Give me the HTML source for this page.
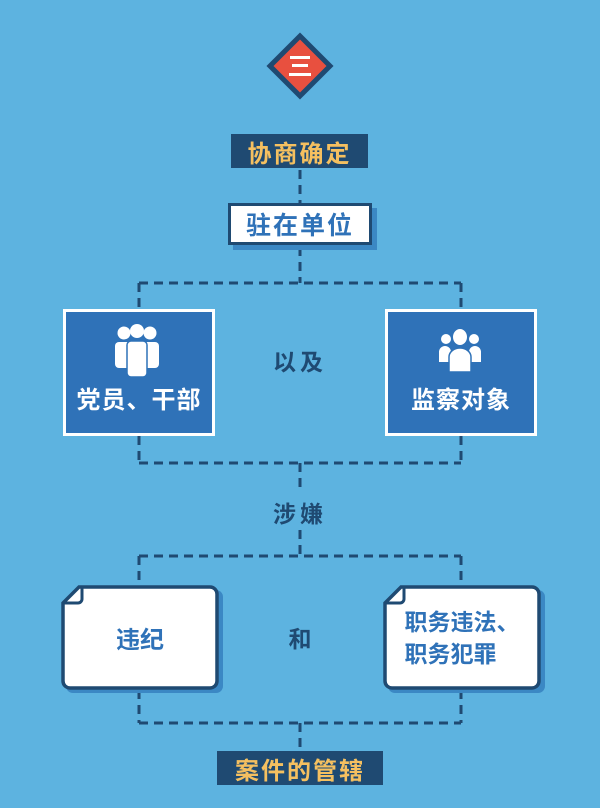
<!DOCTYPE html>
<html><head><meta charset="utf-8"><style>
body{margin:0;width:600px;height:808px;background:#5db3e0;position:relative;overflow:hidden;font-family:"Liberation Sans","Noto Sans CJK SC",sans-serif;font-weight:bold}
.a{position:absolute;box-sizing:border-box}
.t{display:flex;align-items:center;justify-content:center;text-align:center}
</style></head><body>
<svg class="a" style="left:0;top:0" width="600" height="808">
<g stroke="#1f4a72" stroke-width="3" stroke-dasharray="9,6" fill="none">
<line x1="300" y1="170" x2="300" y2="203"/>
<line x1="300" y1="247" x2="300" y2="283"/>
<line x1="139" y1="283" x2="461" y2="283"/>
<line x1="139" y1="283" x2="139" y2="309"/>
<line x1="461" y1="283" x2="461" y2="309"/>
<line x1="139" y1="436" x2="139" y2="463"/>
<line x1="461" y1="436" x2="461" y2="463"/>
<line x1="139" y1="463" x2="461" y2="463"/>
<line x1="300" y1="463" x2="300" y2="492"/>
<line x1="300" y1="530" x2="300" y2="556"/>
<line x1="139" y1="556" x2="461" y2="556"/>
<line x1="139" y1="556" x2="139" y2="586"/>
<line x1="461" y1="556" x2="461" y2="586"/>
<line x1="139" y1="690" x2="139" y2="723"/>
<line x1="461" y1="690" x2="461" y2="723"/>
<line x1="139" y1="723" x2="461" y2="723"/>
<line x1="300" y1="723" x2="300" y2="751"/>
</g>
<polygon points="300,36 330,66 300,96 270,66" fill="#e8503f" stroke="#1f4a72" stroke-width="5"/>
<rect x="290" y="56" width="20" height="3" fill="#fff"/>
<rect x="292" y="64" width="16" height="3" fill="#fff"/>
<rect x="289" y="73" width="22" height="3" fill="#fff"/>
<g>
<path d="M83,590 H216 a7,7 0 0 1 7,7 V686 a7,7 0 0 1 -7,7 H73 a7,7 0 0 1 -7,-7 V606 Z" fill="#3b88c4"/>
<path d="M79,587 H210 a7,7 0 0 1 7,7 V681 a7,7 0 0 1 -7,7 H70 a7,7 0 0 1 -7,-7 V603 Z" fill="#fff" stroke="#1f4a72" stroke-width="3.5"/>
<path d="M64,603 H78 a4,4 0 0 0 4,-4 V588" fill="none" stroke="#1f4a72" stroke-width="3"/>
<path d="M405,590 H538 a7,7 0 0 1 7,7 V686 a7,7 0 0 1 -7,7 H395 a7,7 0 0 1 -7,-7 V606 Z" fill="#3b88c4"/>
<path d="M401,587 H532 a7,7 0 0 1 7,7 V681 a7,7 0 0 1 -7,7 H392 a7,7 0 0 1 -7,-7 V603 Z" fill="#fff" stroke="#1f4a72" stroke-width="3.5"/>
<path d="M386,603 H400 a4,4 0 0 0 4,-4 V588" fill="none" stroke="#1f4a72" stroke-width="3"/>
</g>
</svg>
<div class="a t" style="left:231px;top:134px;width:137px;height:34px;background:#1f4a72;color:#f5c060;font-size:24px;letter-spacing:2px">协商确定</div>
<div class="a" style="left:233px;top:208px;width:144px;height:42px;background:#3b88c4"></div>
<div class="a t" style="left:228px;top:203px;width:144px;height:42px;background:#fff;border:3px solid #1f4a72;color:#2f72b8;font-size:25px;letter-spacing:2px">驻在单位</div>
<div class="a t" style="left:63px;top:309px;width:152px;height:127px;background:#2f72b8;border:3px solid #fff;color:#fff;font-size:24px;align-items:flex-end;padding-bottom:18px;letter-spacing:1px">党员、干部</div>
<div class="a t" style="left:385px;top:309px;width:152px;height:127px;background:#2f72b8;border:3px solid #fff;color:#fff;font-size:24px;align-items:flex-end;padding-bottom:18px;letter-spacing:1px">监察对象</div>
<div class="a t" style="left:250px;top:345px;width:100px;height:30px;color:#1f4a72;font-size:23px;letter-spacing:4px">以及</div>
<div class="a t" style="left:250px;top:497px;width:100px;height:30px;color:#1f4a72;font-size:23px;letter-spacing:4px">涉嫌</div>
<div class="a t" style="left:63px;top:587px;width:154px;height:101px;color:#2f72b8;font-size:24px">违纪</div>
<div class="a t" style="left:385px;top:587px;width:154px;height:101px;color:#2f72b8;font-size:23px;line-height:32px"><div style="text-align:left">职务违法、<br>职务犯罪</div></div>
<div class="a t" style="left:250px;top:622px;width:100px;height:30px;color:#1f4a72;font-size:23px">和</div>
<div class="a t" style="left:217px;top:751px;width:166px;height:34px;background:#1f4a72;color:#f5c060;font-size:24px;letter-spacing:2px">案件的管辖</div>
<svg class="a" style="left:0;top:0" width="600" height="808">
<g fill="#fff">
<circle cx="124" cy="333" r="6.5"/><circle cx="150" cy="333" r="6.5"/><circle cx="137" cy="331" r="7"/>
<rect x="115" y="342" width="17" height="26" rx="4"/><rect x="142" y="342" width="17" height="26" rx="4"/>
<rect x="127" y="341" width="20" height="36" rx="4" stroke="#2f72b8" stroke-width="1.5"/>
</g>
<g fill="#fff">
<circle cx="446" cy="339" r="5"/><circle cx="474" cy="339" r="5"/>
<path d="M439,362 v-10 a6,6 0 0 1 12,0 v10 Z M469,362 v-10 a6,6 0 0 1 12,0 v10 Z"/>
<ellipse cx="460" cy="337" rx="7" ry="8"/>
<path d="M449,372 v-15 a11,9 0 0 1 22,0 v15 Z" stroke="#2f72b8" stroke-width="1.5"/>
</g>
</svg>
</body></html>
